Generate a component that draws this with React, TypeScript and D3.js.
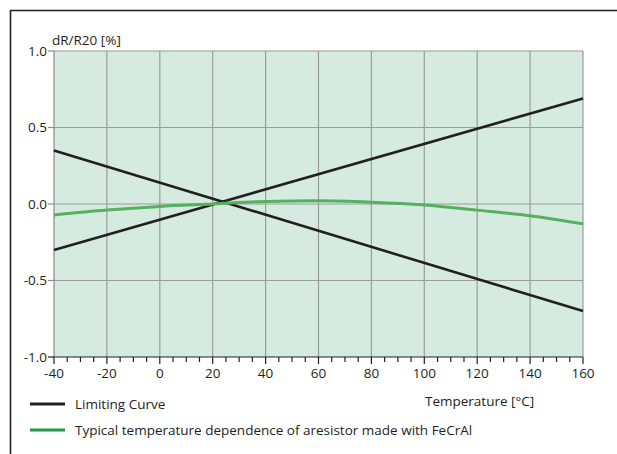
import React, { useEffect, useRef } from 'react';
import * as d3 from 'd3';

// temperatures in °C
const temps = [-40, -20, 0, 20, 40, 60, 80, 100, 120, 140, 160];
// typical FeCrAl resistor deviation in %
const typical = [-0.072, -0.04, -0.016, 0.0, 0.017, 0.021, 0.012, -0.006, -0.04, -0.077, -0.13];
// limiting curves (end points)
const limitTemps = [-40, 160];
const limitUpper = [-0.3, 0.69];
const limitLower = [0.35, -0.7];

const xTicks = [-40, -20, 0, 20, 40, 60, 80, 100, 120, 140, 160];
const xMinorTicks = d3.range(-40, 161, 5);
const yTicks = [-1.0, -0.5, 0.0, 0.5, 1.0];

const legendItems = [
    { label: 'Limiting Curve', color: '#231f20' },
    { label: 'Typical temperature dependence of aresistor made with FeCrAl', color: '#1f9a4b' },
];

const App = () => {
    const chart = useRef<SVGSVGElement>(null);

    useEffect(() => {
        const width = 617;
        const height = 454;
        const left = 54;
        const right = 583;
        const top = 51;
        const bottom = 357;
        const font = "'Open Sans', 'Noto Sans', sans-serif";
        const fontSize = 13.5;

        const svg = d3.select(chart.current);
        svg.selectAll('*').remove();
        svg.attr('width', width).attr('height', height);

        svg.append('rect')
            .attr('width', width)
            .attr('height', height)
            .attr('fill', '#fff');

        // outer frame (left + top)
        svg.append('path')
            .attr('d', `M10.5,${height} V10.5 H${width}`)
            .attr('fill', 'none')
            .attr('stroke', '#231f20')
            .attr('stroke-width', 1.6);

        const x = d3.scaleLinear().domain([-40, 160]).range([left, right]);
        const y = d3.scaleLinear().domain([-1, 1]).range([bottom, top]);

        svg.append('rect')
            .attr('x', left)
            .attr('y', top)
            .attr('width', right - left)
            .attr('height', bottom - top)
            .attr('fill', '#d6ebdf');

        // grid
        svg.append('g')
            .selectAll('line')
            .data(xTicks.slice(1))
            .join('line')
            .attr('x1', d => x(d))
            .attr('x2', d => x(d))
            .attr('y1', top)
            .attr('y2', bottom)
            .attr('stroke', '#9c9c9c')
            .attr('stroke-width', 1.2);
        svg.append('g')
            .selectAll('line')
            .data(yTicks.slice(1))
            .join('line')
            .attr('x1', left)
            .attr('x2', right)
            .attr('y1', d => y(d))
            .attr('y2', d => y(d))
            .attr('stroke', '#9c9c9c')
            .attr('stroke-width', 1.2);

        // y axis
        svg.append('line')
            .attr('x1', left)
            .attr('x2', left)
            .attr('y1', top)
            .attr('y2', bottom)
            .attr('stroke', '#8a8a8a')
            .attr('stroke-width', 1.2);
        svg.append('g')
            .selectAll('line')
            .data(yTicks)
            .join('line')
            .attr('x1', left - 6)
            .attr('x2', left)
            .attr('y1', d => y(d))
            .attr('y2', d => y(d))
            .attr('stroke', d => (d === -1 ? '#231f20' : '#8a8a8a'))
            .attr('stroke-width', 1.2);
        svg.append('g')
            .selectAll('text')
            .data(yTicks)
            .join('text')
            .attr('x', left - 7)
            .attr('y', d => y(d) + 4.5)
            .attr('text-anchor', 'end')
            .attr('font-family', font)
            .attr('font-size', fontSize)
            .attr('fill', '#231f20')
            .text(d => d3.format('.1f')(d).replace('−', '-'));
        svg.append('text')
            .attr('x', 52)
            .attr('y', 45)
            .attr('font-family', font)
            .attr('font-size', fontSize)
            .attr('fill', '#231f20')
            .text('dR/R20 [%]');

        // x axis
        svg.append('line')
            .attr('x1', left)
            .attr('x2', right)
            .attr('y1', bottom)
            .attr('y2', bottom)
            .attr('stroke', '#231f20')
            .attr('stroke-width', 1.2);
        svg.append('g')
            .selectAll('line')
            .data(xMinorTicks)
            .join('line')
            .attr('x1', d => x(d))
            .attr('x2', d => x(d))
            .attr('y1', bottom)
            .attr('y2', d => bottom + (d % 20 === 0 ? 7 : 5))
            .attr('stroke', '#231f20')
            .attr('stroke-width', 1.2);
        svg.append('g')
            .selectAll('text')
            .data(xTicks)
            .join('text')
            .attr('x', d => x(d))
            .attr('y', bottom + 21)
            .attr('text-anchor', 'middle')
            .attr('font-family', font)
            .attr('font-size', fontSize)
            .attr('fill', '#231f20')
            .text(d => String(d));
        svg.append('text')
            .attr('x', 425)
            .attr('y', 406)
            .attr('font-family', font)
            .attr('font-size', fontSize)
            .attr('fill', '#231f20')
            .text('Temperature [°C]');

        // curves
        const straight = d3
            .line<number>()
            .x((d, i) => x(limitTemps[i]))
            .y(d => y(d));
        [limitUpper, limitLower].forEach(vals => {
            svg.append('path')
                .attr('d', straight(vals))
                .attr('fill', 'none')
                .attr('stroke', '#231f20')
                .attr('stroke-width', 2.6);
        });
        const smooth = d3
            .line<number>()
            .x((d, i) => x(temps[i]))
            .y(d => y(d))
            .curve(d3.curveMonotoneX);
        svg.append('path')
            .attr('d', smooth(typical))
            .attr('fill', 'none')
            .attr('stroke', '#55b05f')
            .attr('stroke-width', 3);

        // legend
        const legend = svg
            .append('g')
            .selectAll('g')
            .data(legendItems)
            .join('g')
            .attr('transform', (d, i) => `translate(30, ${404 + i * 26})`);
        legend
            .append('line')
            .attr('x1', 0)
            .attr('x2', 35)
            .attr('stroke', d => d.color)
            .attr('stroke-width', 3);
        legend
            .append('text')
            .attr('x', 45)
            .attr('y', 5)
            .attr('font-family', font)
            .attr('font-size', fontSize)
            .attr('fill', '#231f20')
            .text(d => d.label);
    });

    return (
        <div style={{ position: 'absolute', left: 0, top: 0 }}>
            <svg ref={chart}></svg>
        </div>
    );
};

export default App;
